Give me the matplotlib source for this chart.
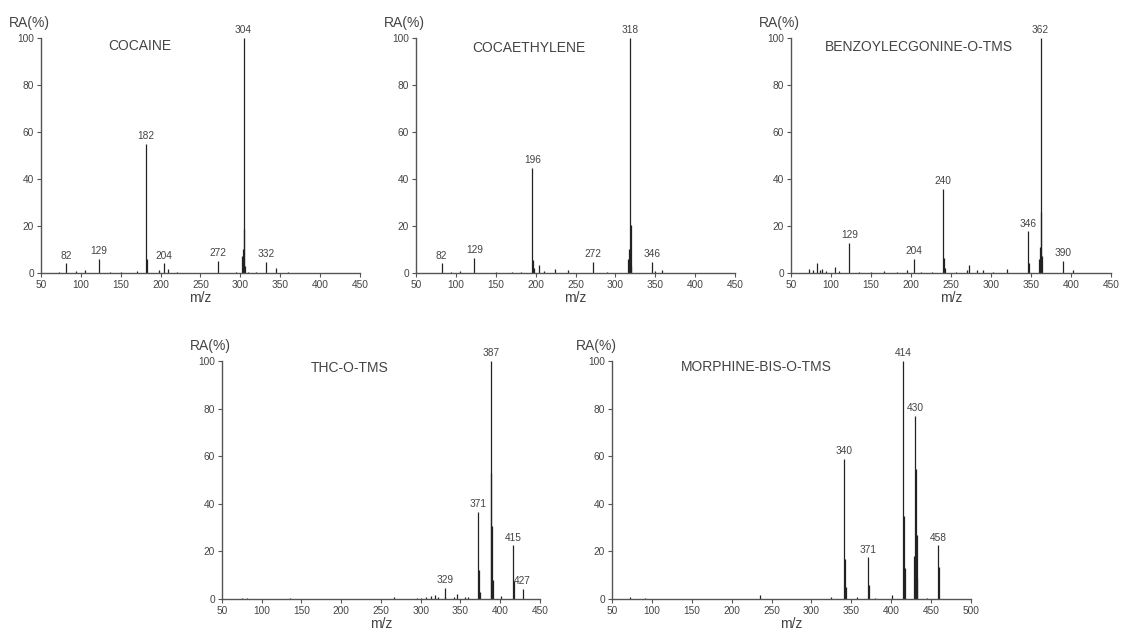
import matplotlib
matplotlib.use('Agg')
import matplotlib.pyplot as plt

plt.rcParams['font.family'] = ['Liberation Sans', 'DejaVu Sans']

# data to plot (m/z, relative abundance in %)
cocaine_mz = [73, 82, 94, 105, 123, 137, 150, 170, 182, 183, 198, 204, 209, 220, 272, 294, 302, 303, 304, 305, 306, 310, 320, 332, 345, 360]
cocaine_ra = [0.5, 4, 0.8, 1, 6, 0.4, 0.5, 0.8, 55, 6, 1, 4, 1.8, 0.4, 5, 0.3, 7, 10, 100, 18.5, 3, 0.5, 0.4, 4.5, 2, 0.3]
cocaine_label_mz = [82, 123, 182, 204, 272, 304, 332]
cocaine_labels = ['82', '129', '182', '204', '272', '304', '332']

cocaeth_mz = [82, 94, 105, 123, 150, 170, 182, 196, 197, 198, 204, 210, 224, 240, 272, 290, 316, 317, 318, 319, 320, 346, 349, 358]
cocaeth_ra = [4, 0.5, 0.8, 6.5, 0.4, 0.3, 0.5, 44.5, 5.5, 2, 3.5, 0.8, 1.5, 1, 4.8, 0.3, 6, 10, 100, 20.5, 3, 4.8, 0.8, 1]
cocaeth_label_mz = [82, 123, 196, 272, 318, 346]
cocaeth_labels = ['82', '129', '196', '272', '318', '346']

benzo_mz = [73, 77, 82, 86, 89, 94, 105, 110, 123, 135, 150, 166, 183, 195, 204, 213, 226, 240, 241, 242, 256, 270, 272, 283, 290, 303, 320, 346, 347, 360, 361, 362, 363, 364, 390, 402]
benzo_ra = [1.5, 1.2, 4, 1, 1.5, 0.8, 2.5, 0.6, 12.6, 0.3, 0.5, 0.6, 0.5, 1, 5.8, 0.3, 0.4, 35.6, 6.5, 2, 0.3, 1.2, 3.3, 1, 1, 0.4, 1.5, 17.6, 4, 6, 11, 100, 26, 7, 5.1, 1]
benzo_label_mz = [123, 204, 240, 346, 362, 390]
benzo_labels = ['129', '204', '240', '346', '362', '390']

thc_mz = [75, 82, 135, 266, 295, 300, 307, 313, 318, 322, 330, 331, 342, 345, 356, 359, 372, 373, 374, 388, 389, 390, 391, 401, 416, 417, 428]
thc_ra = [0.3, 0.3, 0.5, 0.8, 0.4, 0.4, 0.8, 1.2, 1.5, 0.8, 4.5, 1, 1, 2, 1, 1, 36.5, 12, 3, 100, 53, 30.5, 8, 1.2, 22.5, 7.5, 4.3]
thc_label_mz = [330, 372, 388, 416, 428]
thc_labels = ['329', '371', '387', '415', '427']

morph_mz = [73, 91, 236, 325, 341, 342, 343, 357, 371, 372, 380, 401, 415, 416, 417, 429, 430, 431, 432, 433, 445, 459, 460]
morph_ra = [1, 0.4, 1.5, 1, 59, 17, 5, 0.8, 17.5, 6, 0.4, 1.5, 100, 35, 13, 18, 77, 54.5, 27, 9, 0.3, 22.5, 13.5]
morph_label_mz = [341, 371, 415, 430, 459]
morph_labels = ['340', '371', '414', '430', '458']

# title of each panel and its position in data units
titles = ['COCAINE', 'COCAETHYLENE', 'BENZOYLECGONINE-O-TMS', 'THC-O-TMS', 'MORPHINE-BIS-O-TMS']
title_x = [174, 191, 210, 211, 231]
title_y = [96.7, 95.6, 96.3, 96.9, 97.3]
x_max = [450, 450, 450, 450, 500]

text_col = '#444444'
axis_col = '#555555'

fig = plt.figure(figsize=(11.25, 6.36), dpi=100)

# panel positions (left, bottom, width, height) in figure fraction
boxes = [[0.0364, 0.571, 0.2836, 0.3695],
         [0.3698, 0.571, 0.2836, 0.3695],
         [0.7031, 0.571, 0.2844, 0.3695],
         [0.1973, 0.0582, 0.2827, 0.3742],
         [0.5440, 0.0582, 0.3190, 0.3742]]

spectra = [(cocaine_mz, cocaine_ra, cocaine_label_mz, cocaine_labels),
           (cocaeth_mz, cocaeth_ra, cocaeth_label_mz, cocaeth_labels),
           (benzo_mz, benzo_ra, benzo_label_mz, benzo_labels),
           (thc_mz, thc_ra, thc_label_mz, thc_labels),
           (morph_mz, morph_ra, morph_label_mz, morph_labels)]

for i, (mz, ra, lab_mz, labs) in enumerate(spectra):
    ax = fig.add_axes(boxes[i])
    #stick spectrum
    ax.vlines(mz, 0, ra, color='#222222', linewidth=0.9, clip_on=False)

    #peak labels just above each labelled peak
    for m, t in zip(lab_mz, labs):
        h = ra[mz.index(m)]
        ax.annotate(t, (m, h), xytext=(0, 2), textcoords='offset points',
                    ha='center', va='bottom', fontsize=7.3, color=text_col)

    ax.text(title_x[i], title_y[i], titles[i], ha='center', va='center',
            fontsize=10, color=text_col)

    ax.set_xlim(50, x_max[i])
    ax.set_ylim(0, 100)
    ax.set_xticks(range(50, x_max[i] + 1, 50))
    ax.set_yticks(range(0, 101, 20))

    # styling: only left and bottom axis
    for s in ['top', 'right']:
        ax.spines[s].set_visible(False)
    for s in ['left', 'bottom']:
        ax.spines[s].set_color(axis_col)
        ax.spines[s].set_linewidth(1.0)
    ax.tick_params(direction='out', length=3, width=0.8, color=axis_col,
                   labelsize=7.3, labelcolor=text_col, pad=2)

    ax.set_xlabel('m/z', fontsize=10, color=text_col, labelpad=1)
    ax.text(-0.1, 1.065, 'RA(%)', transform=ax.transAxes, ha='left', va='center',
            fontsize=10, color=text_col)

#saving the plot
plt.savefig('out.png', dpi=100)
